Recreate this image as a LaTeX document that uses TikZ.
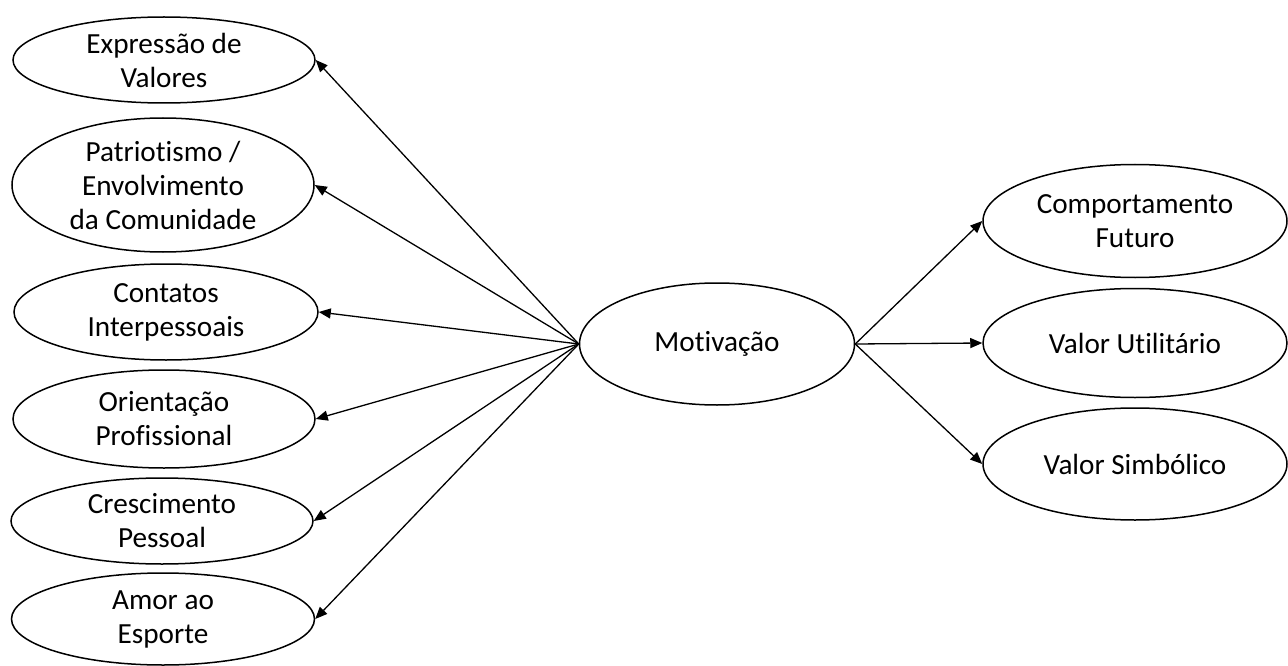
\documentclass[tikz,border=0pt]{standalone}
\usepackage{fontspec}
\setmainfont[Ligatures={NoCommon},RawFeature={-liga;-dlig;-clig}]{Carlito}
\usetikzlibrary{shapes.geometric,arrows.meta}
\begin{document}
\begin{tikzpicture}[x=1pt,y=-1pt,
  oval/.style={draw=black, line width=1.5pt, ellipse, inner sep=0pt, align=center,
     font=\fontsize{29.2}{34}\selectfont},
  conn/.style={line width=1.3pt, -{Triangle[length=12pt,width=10pt]}}]
\useasboundingbox (0,0) rectangle (1288,666);
\node[oval, minimum width=302pt, minimum height=86pt] (e1) at (164,60) {Expressão de\\Valores};
\node[oval, minimum width=302pt, minimum height=134pt] (e2) at (163,185) {Patriotismo /\\Envolvimento\\da Comunidade};
\node[oval, minimum width=304pt, minimum height=96pt] (e3) at (166,312) {Contatos\\Interpessoais};
\node[oval, minimum width=302pt, minimum height=98pt] (e4) at (164,419) {Orientação\\Profissional};
\node[oval, minimum width=302pt, minimum height=86pt] (e5) at (162,521) {Crescimento\\Pessoal};
\node[oval, minimum width=303pt, minimum height=92pt] (e6) at (163,619) {Amor ao\\Esporte};
\node[oval, minimum width=275pt, minimum height=122pt] (mot) at (717,344) {Motivação};
\node[oval, minimum width=304pt, minimum height=113pt] (r1) at (1135,221) {Comportamento\\Futuro};
\node[oval, minimum width=304pt, minimum height=109pt] (r2) at (1135,343) {Valor Utilitário};
\node[oval, minimum width=304pt, minimum height=112pt] (r3) at (1135,464) {Valor Simbólico};
\foreach \t in {e1,e2,e3,e4,e5,e6} \draw[conn] (mot.west) -- (\t.east);
\foreach \t in {r1,r2,r3} \draw[conn] (mot.east) -- (\t.west);
\end{tikzpicture}
\end{document}
